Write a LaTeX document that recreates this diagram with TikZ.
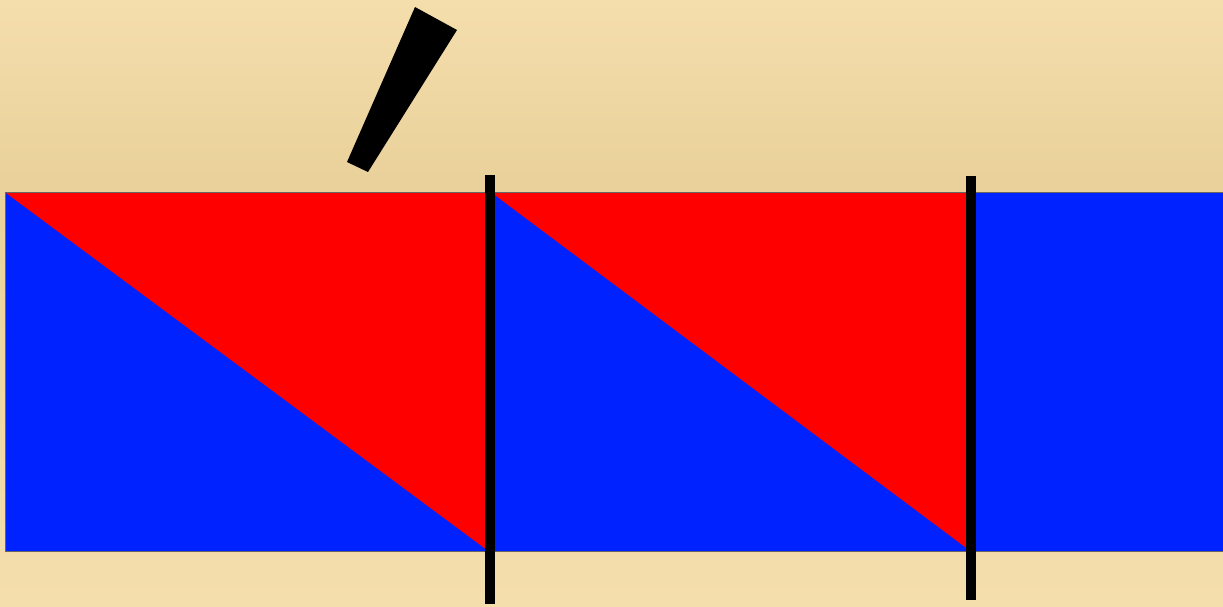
\documentclass[tikz,border=0pt]{standalone}
\usepackage{tikz}
\usetikzlibrary{positioning}
\definecolor{papyrus}{RGB}{234,209,155}
\definecolor{papyruslight}{RGB}{244,222,172}
\definecolor{tri red}{RGB}{255,0,0}
\definecolor{tri blue}{RGB}{0,34,255}

\begin{document}
\begin{tikzpicture}[x=1pt,y=-1pt,
  bluepart/.style={fill=tri blue,draw=black!60,line width=0.8pt},
  redpart/.style={fill=tri red},
  cutline/.style={line width=10pt,black},
  tickmark/.style={fill=black}]
  % background
  \shade[top color=papyruslight,bottom color=papyrus] (0,0) rectangle (1223,180);
  \shade[top color=papyrus,bottom color=papyruslight] (0,180) rectangle (1223,606);
  \useasboundingbox (0,0) rectangle (1223,606);

  \coordinate (tl) at (5,192);
  \coordinate (br) at (1224,551);

  % strip and triangles
  \draw[bluepart] (tl) rectangle (br);
  \fill[redpart] (6,193) -- (487,193) -- (487,550) -- cycle;
  \fill[redpart] (492,193) -- (969,193) -- (969,550) -- cycle;

  % cuts
  \coordinate (c1t) at (490,175);
  \coordinate (c1b) at (490,604);
  \coordinate (c2t) at (971,176);
  \coordinate (c2b) at (971,600);
  \draw[cutline] (c1t) -- (c1b);
  \draw[cutline] (c2t) -- (c2b);

  % stroke above
  \fill[tickmark] (415,7) -- (457,30) -- (368,172) -- (347,162) -- cycle;
\end{tikzpicture}
\end{document}
